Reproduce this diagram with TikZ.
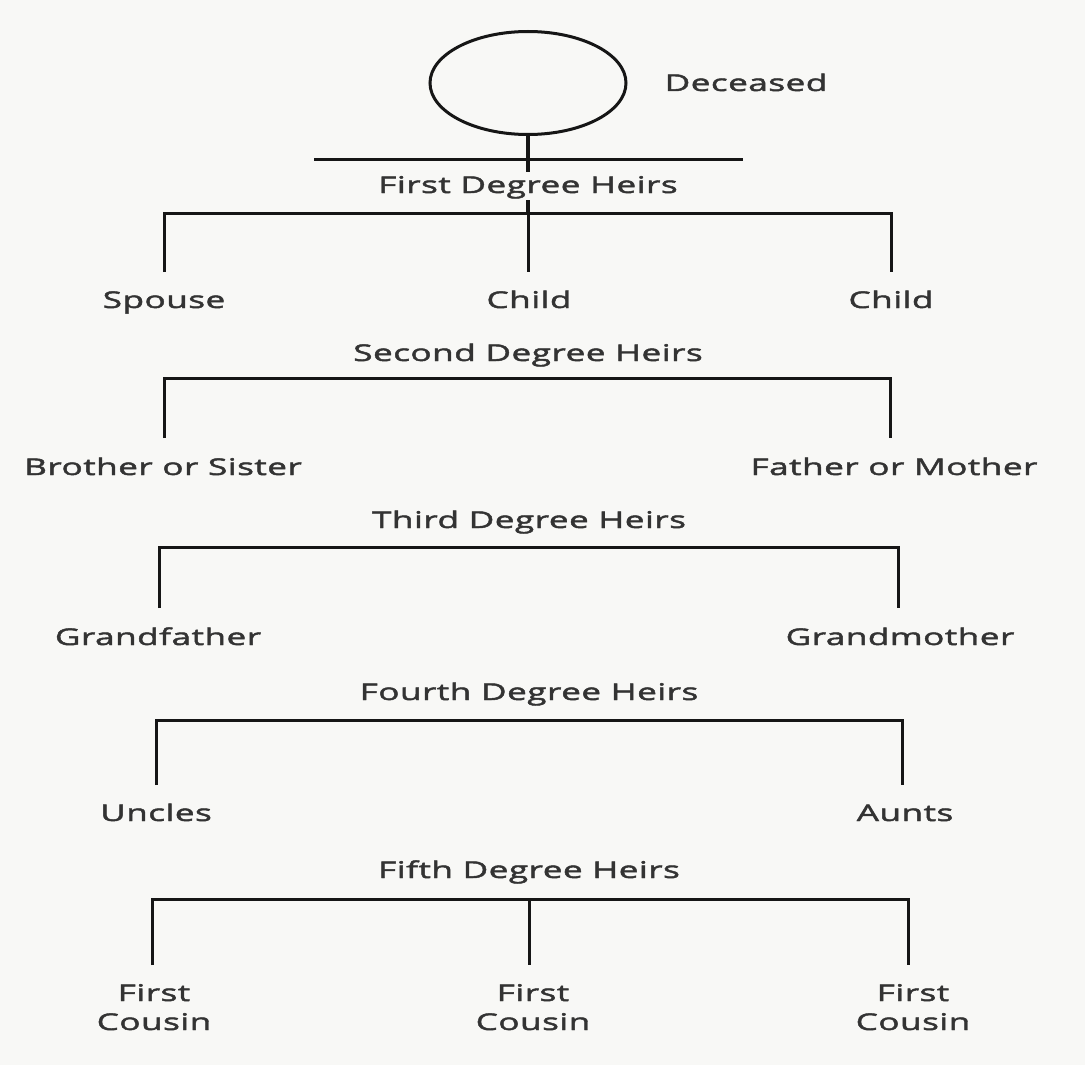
\documentclass[tikz,border=0pt]{standalone}
\usepackage{fontspec}
\setmainfont[FakeStretch=1.53,FakeBold=2,LetterSpace=2]{Open Sans}
\usetikzlibrary{shapes.geometric}
\definecolor{txt}{HTML}{333333}
\definecolor{ln}{HTML}{161616}
\definecolor{bg}{HTML}{F8F8F6}
\tikzset{
  lbl/.style={text=txt, font=\fontsize{23}{29}\selectfont, inner sep=0pt, anchor=base, align=center},
  bar/.style={draw=ln, line width=3pt, line join=miter},
  stem/.style={draw=ln, line width=3.5pt}
}
\begin{document}
\begin{tikzpicture}[x=1pt,y=-1pt]
\fill[bg] (0,0) rectangle (1085,1065);
\useasboundingbox (0,0) rectangle (1085,1065);
% deceased
\node (dec) [ellipse, draw=ln, line width=3pt, minimum width=196pt, minimum height=103pt, inner sep=0pt] at (528,83) {};
\node (decl) [lbl] at (746,91) {Deceased};
\coordinate (s0) at (528,172);
\coordinate (t0l) at (314,159);
\coordinate (t0r) at (743,159);
\draw[bar] (t0l) -- (t0r);
\draw[stem] (dec.south) -- (s0);
% level 1
\node (h1) [lbl] at (528,193) {First Degree Heirs};
\coordinate (u1) at (528,200);
\coordinate (c1) at (528,213);
\coordinate (b1l) at (164,213);
\coordinate (b1r) at (891,213);
\coordinate (d1a) at (164,272);
\coordinate (d1b) at (528,272);
\coordinate (d1c) at (891,272);
\draw[stem] (u1) -- (c1);
\draw[bar] (d1a) -- (b1l) -- (b1r) -- (d1c);
\draw[bar] (c1) -- (d1b);
\node (sp) [lbl] at (164,308) {Spouse};
\node (ch1) [lbl] at (529,308) {Child};
\node (ch2) [lbl] at (891,308) {Child};
% level 2
\node (h2) [lbl] at (528,361) {Second Degree Heirs};
\coordinate (b2l) at (164,378);
\coordinate (b2r) at (890,378);
\coordinate (d2a) at (164,438);
\coordinate (d2b) at (890,438);
\draw[bar] (d2a) -- (b2l) -- (b2r) -- (d2b);
\node (bs) [lbl] at (163,475) {Brother or Sister};
\node (fm) [lbl] at (894,475) {Father or Mother};
% level 3
\node (h3) [lbl] at (529,528) {Third Degree Heirs};
\coordinate (b3l) at (159,547);
\coordinate (b3r) at (898,547);
\coordinate (d3a) at (159,608);
\coordinate (d3b) at (898,608);
\draw[bar] (d3a) -- (b3l) -- (b3r) -- (d3b);
\node (gf) [lbl] at (158,645) {Grandfather};
\node (gm) [lbl] at (900,645) {Grandmother};
% level 4
\node (h4) [lbl] at (529,700) {Fourth Degree Heirs};
\coordinate (b4l) at (156,720);
\coordinate (b4r) at (902,720);
\coordinate (d4a) at (156,785);
\coordinate (d4b) at (902,785);
\draw[bar] (d4a) -- (b4l) -- (b4r) -- (d4b);
\node (un) [lbl] at (156,821) {Uncles};
\node (au) [lbl] at (905,821) {Aunts};
% level 5
\node (h5) [lbl] at (529,878) {Fifth Degree Heirs};
\coordinate (b5l) at (152,899);
\coordinate (b5m) at (529,899);
\coordinate (b5r) at (908,899);
\coordinate (d5a) at (152,965);
\coordinate (d5b) at (529,965);
\coordinate (d5c) at (908,965);
\draw[bar] (d5a) -- (b5l) -- (b5r) -- (d5c);
\draw[bar] (b5m) -- (d5b);
\node (fc1) [lbl] at (154,1030) {First\\Cousin};
\node (fc2) [lbl] at (533,1030) {First\\Cousin};
\node (fc3) [lbl] at (913,1030) {First\\Cousin};
\end{tikzpicture}
\end{document}
